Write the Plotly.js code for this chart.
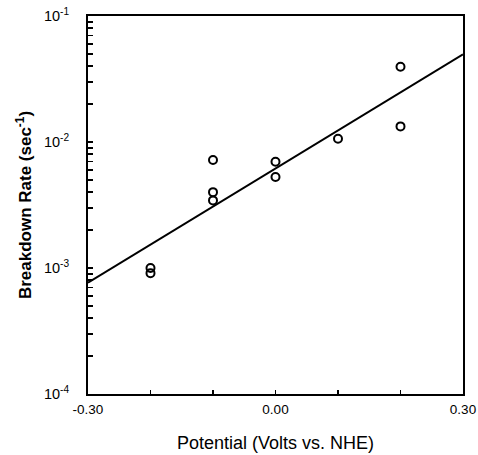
<!DOCTYPE html>
<html><head><meta charset="utf-8">
<script src="https://cdn.plot.ly/plotly-3.0.1.min.js"></script>
<style>html,body{margin:0;padding:0;background:#fff}#chart{width:478px;height:455px}</style>
</head><body><div id="chart"></div>
<script>
const potential = [-0.2, -0.2, -0.1, -0.1, -0.1, 0.0, 0.0, 0.1, 0.2, 0.2];
const rate = [1.0e-3, 0.91e-3, 7.2e-3, 4.0e-3, 3.44e-3, 6.98e-3, 5.27e-3, 1.06e-2, 3.96e-2, 1.33e-2];
const fitX = [-0.3, 0.3];
const fitY = [7.64e-4, 4.97e-2];
const xTickVals = [-0.3, 0.0, 0.3];
const xTickText = ['-0.30', '0.00', '0.30'];
const xMinorVals = [-0.2, -0.1, 0.1, 0.2];
const decades = [-4, -3, -2, -1];
const minorMultipliers = [2, 3, 4, 5, 6, 7, 8, 9];

const yTickVals = decades.map(function (d) { return Math.pow(10, d); });
const yTickText = decades.map(function (d) { return '10<sup>' + d + '</sup>'; });
const yMinorVals = [];
decades.slice(0, -1).forEach(function (d) {
  minorMultipliers.forEach(function (m) { yMinorVals.push(m * Math.pow(10, d)); });
});

const traces = [
  {x: fitX, y: fitY, mode: 'lines', line: {color: '#000', width: 2}, hoverinfo: 'skip'},
  {x: potential, y: rate, mode: 'markers',
   marker: {symbol: 'circle-open', size: 8, color: '#000', line: {width: 2, color: '#000'}}}
];

const layout = {
  width: 478, height: 455,
  margin: {l: 88, r: 15, t: 16, b: 61},
  showlegend: false,
  paper_bgcolor: '#fff', plot_bgcolor: '#fff',
  font: {family: 'Liberation Sans, Arial, sans-serif', color: '#000'},
  xaxis: {
    range: [-0.3, 0.3], tickmode: 'array', tickvals: xTickVals, ticktext: xTickText,
    ticks: 'inside', ticklen: 4, tickwidth: 1.5, tickcolor: '#000',
    minor: {tickmode: 'array', tickvals: xMinorVals, ticks: 'inside', ticklen: 4, tickwidth: 1.5, tickcolor: '#000', showgrid: false},
    showline: true, linewidth: 2, linecolor: '#000', mirror: true,
    showgrid: false, zeroline: false, ticklabeloverflow: 'allow',
    tickfont: {size: 13.5}, ticklabelstandoff: 2,
    title: {text: 'Potential (Volts vs. NHE)', font: {size: 18}, standoff: 20}
  },
  yaxis: {
    type: 'log', range: [-4, -1], tickmode: 'array', tickvals: yTickVals, ticktext: yTickText,
    ticks: 'inside', ticklen: 5, tickwidth: 1.5, tickcolor: '#000',
    minor: {tickmode: 'array', tickvals: yMinorVals, ticks: 'inside', ticklen: 5, tickwidth: 1.5, tickcolor: '#000', showgrid: false},
    showline: true, linewidth: 2, linecolor: '#000', mirror: true,
    showgrid: false, zeroline: false, ticklabelstandoff: 14,
    tickfont: {size: 14.5},
    title: {text: '<b>Breakdown Rate (sec<sup>-1</sup>)</b>', font: {size: 17}, standoff: 8}
  }
};

Plotly.newPlot('chart', traces, layout, {displayModeBar: false, staticPlot: true});
</script>
</body></html>
